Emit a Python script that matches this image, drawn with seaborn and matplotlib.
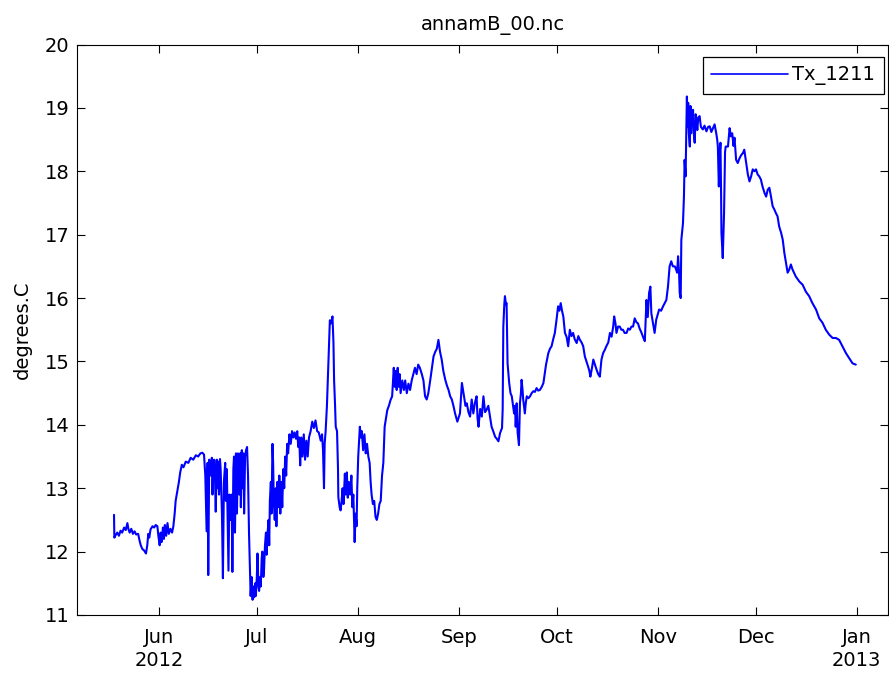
import matplotlib
matplotlib.use("Agg")
import matplotlib.pyplot as plt
import pandas as pd
import seaborn as sns

# Days since 2012-06-01 and water temperature readings for logger Tx_1211
start_date = "2012-06-01"

day_offset = [
    -13.8, -13.7, -13.3, -12.8, -12.3, -11.8, -11.3, -10.7, -10.2, -9.7,
    -9.4, -9.0, -8.5, -8.0, -7.5, -7.0, -6.4, -6.0, -5.6, -5.1,
    -4.6, -4.0, -3.6, -3.3, -3.0, -2.6, -2.0, -1.5, -1.0, -0.5,
    -0.2, 0.2, 0.5, 0.8, 1.2, 1.5, 1.8, 2.2, 2.6, 3.0,
    3.5, 4.0, 4.4, 4.8, 5.1, 5.6, 6.1, 6.5, 7.0, 7.5,
    8.2, 9.0, 9.7, 10.5, 11.3, 12.0, 12.7, 13.3, 13.8, 14.2,
    14.6, 14.9, 15.1, 15.4, 15.9, 16.2, 16.4, 16.7, 16.9, 17.2,
    17.4, 17.7, 17.9, 18.2, 18.4, 18.7, 18.9, 19.3, 19.6, 19.9,
    20.3, 20.5, 20.8, 21.1, 21.3, 21.6, 22.0, 22.3, 22.5, 22.8,
    23.0, 23.3, 23.6, 23.9, 24.2, 24.6, 24.9, 25.1, 25.4, 25.6,
    25.9, 26.1, 26.4, 26.7, 27.0, 27.3, 27.6, 27.9, 28.1, 28.4,
    28.7, 29.0, 29.2, 29.5, 29.7, 30.0, 30.2, 30.5, 30.7, 31.0,
    31.2, 31.5, 31.7, 32.0, 32.2, 32.5, 32.8, 33.0, 33.3, 33.6,
    33.8, 34.0, 34.3, 34.5, 34.8, 35.0, 35.2, 35.5, 35.8, 36.0,
    36.3, 36.6, 36.9, 37.2, 37.5, 37.8, 38.1, 38.4, 38.7, 39.0,
    39.3, 39.6, 40.0, 40.4, 40.8, 41.2, 41.6, 42.0, 42.4, 42.7,
    43.0, 43.3, 43.6, 44.0, 44.4, 44.8, 45.2, 45.6, 46.0, 46.5,
    47.0, 47.5, 48.0, 48.5, 49.0, 49.6, 50.0, 50.3, 50.6, 50.8,
    51.1, 51.5, 51.8, 52.1, 52.4, 52.8, 53.2, 53.5, 53.7, 54.0,
    54.2, 54.6, 54.9, 55.0, 55.4, 55.7, 56.0, 56.3, 56.6, 57.0,
    57.3, 57.6, 57.9, 58.2, 58.6, 59.0, 59.3, 59.6, 60.0, 60.3,
    60.6, 60.8, 61.1, 61.4, 61.6, 61.9, 62.2, 62.6, 63.0, 63.4,
    63.8, 64.2, 64.6, 64.9, 65.2, 65.6, 66.0, 66.4, 66.8, 67.2,
    67.6, 68.0, 68.4, 68.8, 69.2, 69.6, 70.0, 70.5, 71.0, 71.5,
    72.0, 72.3, 72.6, 72.9, 73.2, 73.5, 73.8, 74.1, 74.6, 75.1,
    75.5, 76.0, 76.5, 77.0, 77.5, 78.0, 78.5, 79.0, 79.5, 80.0,
    80.6, 81.1, 81.6, 82.1, 82.6, 83.2, 83.7, 84.2, 84.7, 85.2,
    85.7, 86.2, 86.7, 87.2, 87.8, 88.3, 88.8, 89.3, 89.8, 90.3,
    90.8, 91.5, 92.3, 92.9, 93.4, 94.0, 94.4, 94.9, 95.4, 95.9,
    96.4, 96.9, 97.4, 97.7, 98.0, 98.5, 99.0, 99.5, 100.0, 100.5,
    101.0, 101.5, 102.0, 102.5, 103.1, 103.6, 104.1, 104.6, 105.2, 105.4,
    105.6, 105.9, 106.1, 106.4, 106.6, 106.9, 107.4, 107.8, 108.2, 108.6,
    108.9, 109.2, 109.4, 109.7, 110.0, 110.4, 110.7, 111.0, 111.2, 111.5,
    111.7, 112.2, 112.5, 112.8, 113.3, 113.8, 114.3, 114.8, 115.3, 115.8,
    116.3, 116.8, 117.4, 117.9, 118.3, 118.7, 119.4, 119.9, 120.4, 120.9,
    121.4, 121.9, 122.4, 122.8, 123.2, 123.6, 124.0, 124.5, 125.0, 125.5,
    126.0, 126.5, 127.0, 127.5, 128.1, 128.6, 129.1, 129.6, 130.1, 130.6,
    131.1, 131.6, 132.0, 132.3, 132.8, 133.2, 133.7, 134.2, 134.7, 135.2,
    135.7, 136.2, 136.7, 137.2, 137.8, 138.3, 138.8, 139.3, 139.6, 140.0,
    140.3, 140.8, 141.3, 141.8, 142.3, 142.8, 143.4, 143.9, 144.4, 144.9,
    145.4, 145.9, 146.4, 146.9, 147.4, 148.0, 148.5, 149.0, 149.5, 149.9,
    150.3, 150.7, 151.0, 151.5, 152.0, 152.5, 153.0, 153.4, 154.0, 154.6,
    155.1, 155.6, 156.1, 156.6, 157.1, 157.6, 158.2, 158.6, 158.9, 159.2,
    159.5, 159.7, 160.0, 160.2, 160.7, 161.0, 161.2, 161.5, 161.9, 162.1,
    162.3, 162.5, 162.8, 163.0, 163.2, 163.5, 163.8, 164.0, 164.3, 164.6,
    164.8, 165.1, 165.4, 165.8, 166.2, 166.8, 167.3, 167.9, 168.4, 168.9,
    169.4, 169.9, 170.4, 170.9, 171.2, 171.4, 171.7, 172.0, 172.2, 172.4,
    172.5, 172.9, 173.1, 173.3, 173.6, 173.8, 174.5, 175.0, 175.4, 175.8,
    176.2, 176.5, 177.0, 177.5, 178.0, 178.5, 179.1, 179.5, 180.1, 180.6,
    181.1, 181.6, 182.1, 182.6, 183.1, 183.6, 184.1, 184.6, 185.1, 185.7,
    186.2, 186.7, 187.2, 187.7, 188.2, 188.7, 189.2, 189.7, 190.2, 190.8,
    191.3, 191.8, 192.3, 192.8, 193.3, 193.8, 194.3, 195.3, 196.4, 197.4,
    198.4, 199.4, 200.4, 201.5, 202.5, 203.5, 204.5, 205.6, 206.6, 207.6,
    208.6, 209.6, 210.7, 211.7, 212.7, 213.7,
]

temp_c = [
    12.58, 12.22, 12.26, 12.30, 12.25, 12.33, 12.30, 12.38, 12.34, 12.45,
    12.36, 12.30, 12.36, 12.28, 12.32, 12.27, 12.28, 12.18, 12.10, 12.04,
    12.02, 11.97, 12.10, 12.28, 12.22, 12.35, 12.40, 12.38, 12.42, 12.40,
    12.25, 12.10, 12.30, 12.15, 12.38, 12.20, 12.42, 12.25, 12.45, 12.28,
    12.36, 12.30, 12.40, 12.60, 12.80, 12.95, 13.10, 13.25, 13.37, 13.33,
    13.42, 13.40, 13.48, 13.45, 13.52, 13.50, 13.55, 13.56, 13.53, 13.20,
    12.32, 13.40, 11.63, 13.45, 13.20, 13.48, 12.90, 13.40, 13.45, 13.10,
    12.63, 13.45, 13.00, 13.42, 12.90, 13.46, 13.30, 12.60, 11.58, 13.10,
    13.40, 12.80, 13.30, 12.40, 11.70, 12.90, 12.50, 12.90, 11.68, 13.30,
    13.50, 12.30, 13.55, 12.60, 13.55, 12.90, 13.55, 12.70, 13.60, 13.00,
    13.55, 12.60, 13.50, 13.60, 13.65, 13.20, 12.30, 11.70, 11.30, 11.60,
    11.24, 11.45, 11.28, 11.50, 11.30, 11.60, 11.97, 11.45, 11.38, 11.60,
    11.45, 11.90, 12.00, 11.60, 11.70, 12.10, 12.30, 11.95, 12.30, 12.50,
    12.10, 12.80, 13.10, 12.60, 13.70, 13.40, 12.80, 12.50, 13.00, 12.40,
    13.10, 12.70, 13.20, 12.60, 13.10, 12.70, 13.30, 13.00, 13.50, 13.20,
    13.70, 13.55, 13.85, 13.70, 13.90, 13.80, 13.88, 13.78, 13.90, 13.65,
    13.80, 13.36, 13.80, 13.50, 13.85, 13.45, 13.75, 13.50, 13.80, 13.90,
    14.05, 13.95, 14.07, 13.90, 13.88, 13.75, 13.85, 13.60, 13.00, 13.70,
    13.90, 14.30, 14.76, 15.20, 15.65, 15.60, 15.71, 15.30, 14.70, 14.30,
    13.97, 13.90, 13.30, 12.86, 12.70, 12.65, 12.80, 13.00, 12.75, 13.23,
    12.90, 13.25, 12.85, 13.10, 12.90, 13.20, 12.70, 12.90, 12.15, 12.60,
    12.40, 13.00, 13.50, 13.80, 13.97, 13.80, 13.90, 13.60, 13.85, 13.55,
    13.70, 13.50, 13.40, 13.10, 12.90, 12.75, 12.80, 12.55, 12.50, 12.60,
    12.75, 12.80, 13.20, 13.40, 13.97, 14.10, 14.23, 14.30, 14.39, 14.45,
    14.90, 14.60, 14.85, 14.55, 14.90, 14.60, 14.80, 14.50, 14.70, 14.55,
    14.70, 14.50, 14.65, 14.55, 14.70, 14.80, 14.90, 14.80, 14.95, 14.90,
    14.80, 14.70, 14.45, 14.40, 14.50, 14.71, 14.90, 15.08, 15.15, 15.20,
    15.34, 15.15, 15.03, 14.85, 14.71, 14.62, 14.55, 14.45, 14.40, 14.30,
    14.18, 14.05, 14.18, 14.66, 14.50, 14.30, 14.34, 14.20, 14.13, 14.40,
    14.18, 14.35, 14.45, 14.10, 13.97, 14.25, 14.13, 14.45, 14.20, 14.24,
    14.30, 14.13, 13.97, 13.90, 13.81, 13.78, 13.74, 13.87, 13.95, 14.24,
    15.55, 15.90, 16.03, 15.90, 15.92, 14.97, 14.66, 14.50, 14.45, 14.30,
    14.18, 14.30, 13.97, 14.34, 13.87, 13.68, 14.34, 14.50, 14.71, 14.55,
    14.40, 14.18, 14.35, 14.45, 14.42, 14.45, 14.50, 14.53, 14.52, 14.58,
    14.54, 14.55, 14.60, 14.66, 14.80, 14.95, 15.13, 15.20, 15.24, 15.35,
    15.45, 15.65, 15.87, 15.80, 15.92, 15.80, 15.71, 15.45, 15.39, 15.24,
    15.50, 15.40, 15.45, 15.35, 15.29, 15.40, 15.34, 15.30, 15.24, 15.08,
    15.00, 14.92, 14.85, 14.76, 14.90, 15.03, 14.95, 14.87, 14.80, 14.76,
    15.03, 15.13, 15.18, 15.24, 15.30, 15.45, 15.39, 15.55, 15.71, 15.60,
    15.45, 15.55, 15.55, 15.50, 15.50, 15.45, 15.45, 15.52, 15.50, 15.55,
    15.55, 15.68, 15.62, 15.60, 15.52, 15.45, 15.38, 15.32, 15.97, 15.70,
    16.08, 16.18, 15.76, 15.60, 15.45, 15.66, 15.75, 15.82, 15.80, 15.87,
    15.92, 15.97, 16.18, 16.50, 16.58, 16.50, 16.50, 16.45, 16.40, 16.66,
    16.40, 16.08, 16.00, 16.92, 17.18, 17.60, 18.18, 17.92, 19.18, 18.70,
    19.08, 18.60, 18.39, 19.03, 18.60, 18.95, 18.97, 18.60, 18.45, 18.90,
    18.82, 18.65, 18.85, 18.87, 18.70, 18.66, 18.72, 18.63, 18.70, 18.71,
    18.62, 18.68, 18.74, 18.60, 18.50, 18.39, 17.76, 18.30, 18.45, 17.60,
    17.03, 16.63, 17.00, 17.34, 18.30, 18.39, 18.39, 18.68, 18.55, 18.60,
    18.40, 18.53, 18.18, 18.13, 18.20, 18.25, 18.29, 18.34, 18.13, 17.95,
    17.84, 17.92, 18.03, 18.00, 18.03, 17.95, 17.92, 17.87, 17.76, 17.66,
    17.60, 17.71, 17.74, 17.60, 17.45, 17.40, 17.34, 17.29, 17.13, 17.03,
    16.92, 16.71, 16.55, 16.40, 16.45, 16.53, 16.45, 16.34, 16.26, 16.21,
    16.10, 16.03, 15.92, 15.82, 15.68, 15.61, 15.50, 15.42, 15.37, 15.37,
    15.34, 15.24, 15.13, 15.05, 14.97, 14.95,
]

series_name = "Tx_1211"
title_text = "annamB_00.nc"
y_label = "degrees.C"
tick_months = ["2012-06-01", "2012-07-01", "2012-08-01", "2012-09-01",
               "2012-10-01", "2012-11-01", "2012-12-01", "2013-01-01"]
tick_labels = ["Jun\n2012", "Jul", "Aug", "Sep", "Oct", "Nov", "Dec", "Jan\n2013"]
y_ticks = [11, 12, 13, 14, 15, 16, 17, 18, 19, 20]

assert len(day_offset) == len(temp_c)

df = pd.DataFrame({
    "time": pd.Timestamp(start_date) + pd.to_timedelta(day_offset, unit="D"),
    "temp": temp_c,
})

sns.set_style("ticks")
plt.rcParams["font.family"] = ["DejaVu Sans"]
plt.rcParams["text.color"] = "black"
plt.rcParams["axes.labelcolor"] = "black"
plt.rcParams["xtick.color"] = "black"
plt.rcParams["ytick.color"] = "black"
plt.rcParams["axes.edgecolor"] = "black"
FS = 14

W, H = 889, 673
fig = plt.figure(figsize=(W / 100, H / 100), dpi=100)
left, right, top, bottom = 77.3, 888.0, 44.5, 615.0
ax = fig.add_axes([left / W, (H - bottom) / H, (right - left) / W, (bottom - top) / H])

sns.lineplot(data=df, x="time", y="temp", color="#0000ff", linewidth=1.5,
             estimator=None, sort=False, ax=ax, label=series_name)

ax.set_xlim(pd.Timestamp("2012-05-06 22:30"), pd.Timestamp("2013-01-10 14:00"))
ax.set_ylim(11, 20)
ax.set_xticks(pd.to_datetime(tick_months))
ax.set_xticklabels(tick_labels, fontsize=FS, linespacing=1.25, color="black")
ax.set_yticks(y_ticks)
ax.set_yticklabels([str(v) for v in y_ticks], fontsize=FS, color="black")

for s in ax.spines.values():
    s.set_visible(True)
    s.set_linewidth(0.8)
    s.set_color("black")

ax.tick_params(axis="both", which="both", direction="in", length=5.5, width=0.8,
               color="black", labelcolor="black", top=True, right=True)
ax.tick_params(axis="x", pad=9.5)
ax.tick_params(axis="y", pad=5.6)

ax.set_xlabel("")
ax.set_ylabel(y_label, fontsize=FS, color="black")
ax.yaxis.set_label_coords(-0.0566, 0.5)

fig.text(493 / W, 1 - 30 / H, title_text, fontsize=FS, ha="center", va="baseline",
         color="black")

leg = ax.legend(loc="upper right", bbox_to_anchor=(0.9948, 0.9786), borderaxespad=0,
                frameon=True, fancybox=False, shadow=False, framealpha=1,
                edgecolor="black", fontsize=FS, handlelength=3.96,
                handletextpad=0.2, borderpad=0.45)
leg.get_frame().set_linewidth(0.9)
for text in leg.get_texts():
    text.set_color("black")
for line in leg.get_lines():
    line.set_linewidth(1.2)

fig.savefig("out.png", dpi=100, facecolor="white")
